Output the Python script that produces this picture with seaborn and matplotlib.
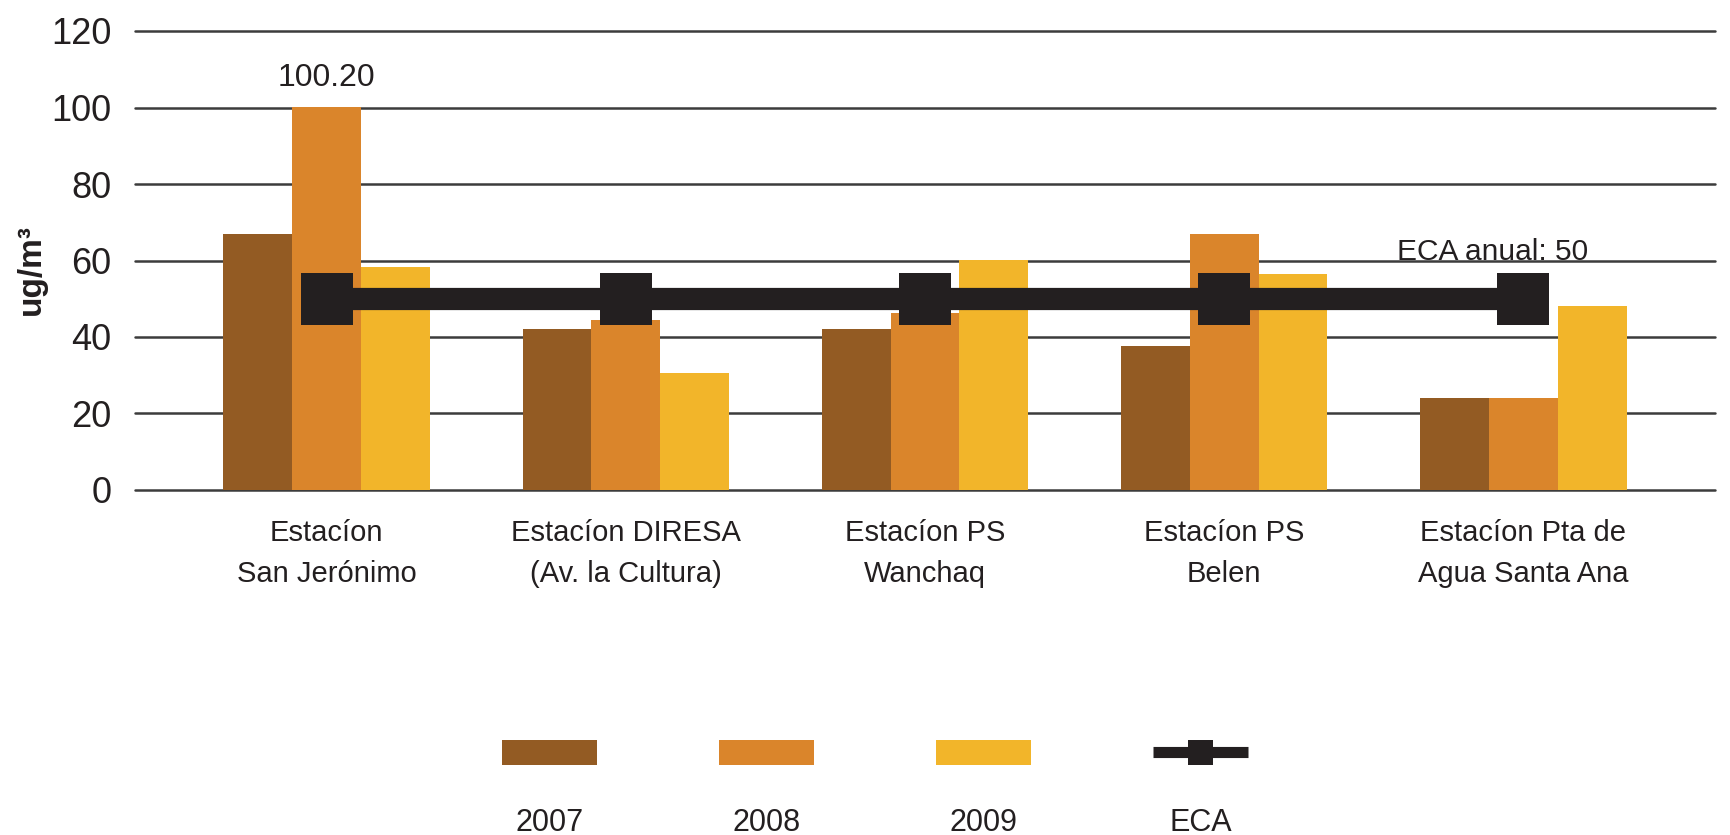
import matplotlib
matplotlib.use("Agg")
import matplotlib.pyplot as plt
from matplotlib.patches import Patch
from matplotlib.lines import Line2D
from matplotlib.offsetbox import VPacker
import seaborn as sns
import pandas as pd

# ---- data ----
estaciones = [
    "Estacíon\nSan Jerónimo",
    "Estacíon DIRESA\n(Av. la Cultura)",
    "Estacíon PS\nWanchaq",
    "Estacíon PS\nBelen",
    "Estacíon Pta de\nAgua Santa Ana",
]
anios = ["2007", "2008", "2009"]
pm_2007 = [66.8, 42.1, 42.1, 37.6, 24.1]
pm_2008 = [100.2, 44.5, 46.3, 66.8, 24.1]
pm_2009 = [58.3, 30.6, 60.1, 56.5, 48.1]
eca = [50, 50, 50, 50, 50]
y_ticks = [0, 20, 40, 60, 80, 100, 120]

colores = ["#935B23", "#DA852B", "#F2B52A"]
negro = "#231F20"

regular = ["Liberation Sans", "DejaVu Sans"]

sns.set_theme(style="white")
plt.rcParams["font.family"] = regular

df = pd.DataFrame({
    "estacion": estaciones * 3,
    "anio": sum([[a] * len(estaciones) for a in anios], []),
    "valor": pm_2007 + pm_2008 + pm_2009,
})

fig = plt.figure(figsize=(17.31, 8.35), dpi=100)
ax = fig.add_axes([135 / 1731, 1 - 490 / 835, 1580 / 1731, 459 / 835])

sns.barplot(data=df, x="estacion", y="valor", hue="anio", order=estaciones,
            hue_order=anios, palette=colores, width=0.69, saturation=1,
            errorbar=None, legend=False, ax=ax, linewidth=0)

sns.pointplot(x=estaciones, y=eca, order=estaciones, color=negro,
              markers="s", linestyles="-", errorbar=None, ax=ax,
              markersize=38, linewidth=16, markeredgewidth=0)

# value label on the tallest bar
cont08 = ax.containers[1]
labels08 = [f"{v:.2f}" if v >= 100 else "" for v in pm_2008]
ax.bar_label(cont08, labels=labels08, padding=10, fontsize=23,
             color=negro, family=regular)

ax.annotate(f"ECA anual: {eca[-1]}", xy=(len(estaciones) - 1, eca[-1]),
            xytext=(-22, 34), textcoords="offset points", ha="center",
            va="center", fontsize=21.5, color=negro, family=regular)

# axes styling
ax.set_ylim(0, 120)
ax.set_xlim(-0.64, 4.64)
ax.set_yticks(y_ticks)
ax.set_yticklabels([str(t) for t in y_ticks], fontsize=26, color=negro)
ax.set_xticks(range(len(estaciones)))
ax.set_xticklabels(estaciones, fontsize=21, color=negro, linespacing=1.6)
ax.tick_params(axis="y", length=0, pad=17)
ax.tick_params(axis="x", length=0, pad=21)
ax.grid(axis="y", color="#3C3C3C", linewidth=1.8)
ax.grid(axis="x", visible=False)
for gl in ax.get_ygridlines():
    gl.set_clip_on(False)
ax.set_axisbelow(True)
for s in ax.spines.values():
    s.set_visible(False)
ax.set_xlabel("")
ax.set_ylabel("ug/m³", fontsize=24, fontweight="bold", color=negro)
ax.yaxis.set_label_coords(-0.056, 0.48)

# legend: swatch above its label
handles = [Patch(facecolor=c, edgecolor="none") for c in colores]
handles.append(Line2D([], [], color=negro, linewidth=8, marker="s",
                      markersize=18, markeredgewidth=0,
                      solid_capstyle="butt"))
leg = fig.legend(handles, anios + ["ECA"], ncol=4, loc="upper center",
                 bbox_to_anchor=(0.5055, 1 - 740 / 835), frameon=False,
                 prop={"family": regular, "size": 22}, handlelength=3.1,
                 handleheight=0.9, handletextpad=1.4, columnspacing=4.0,
                 borderpad=0, borderaxespad=0)
for t in leg.get_texts():
    t.set_color(negro)
for col in leg._legend_handle_box.get_children():
    for item in col.get_children():
        item.__class__ = VPacker
        item.align = "center"

fig.savefig("out.png", dpi=100, facecolor="white")
